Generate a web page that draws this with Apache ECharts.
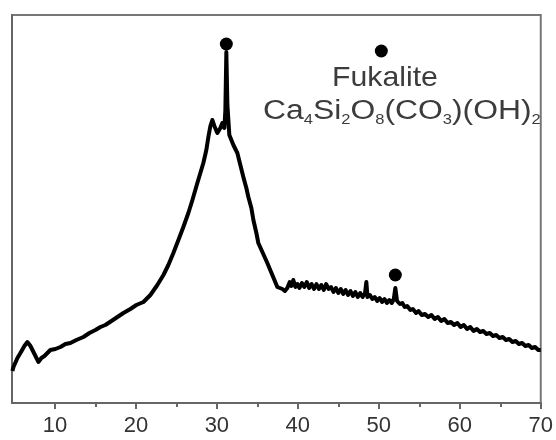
<!DOCTYPE html>
<html>
<head>
<meta charset="utf-8">
<script src="https://cdn.jsdelivr.net/npm/echarts@6/dist/echarts.min.js"></script>
<style>html,body{margin:0;padding:0;background:#fff;}#c{width:556px;height:440px;}</style>
</head>
<body>
<div id="c"></div>
<script>
// 2-theta (degrees)
var twoTheta = [4.75,4.88,5.37,5.74,6.23,6.60,6.98,7.35,7.72,7.96,8.33,8.70,9.07,9.44,10.06,10.68,11.30,11.91,12.65,13.52,14.26,15.00,15.62,16.23,16.98,17.72,18.46,19.32,20.06,20.93,21.79,22.65,23.40,24.01,24.63,25.25,25.86,26.48,26.98,27.59,28.33,28.70,28.95,29.20,29.44,29.69,30.06,30.43,30.68,30.93,31.05,31.17,31.30,31.54,32.04,32.53,32.90,33.27,33.64,33.89,34.26,34.51,34.88,35.12,35.62,36.23,36.85,37.47,
  38.09,38.40,38.70,39.00,39.20,39.44,39.70,39.94,40.20,40.50,40.80,41.10,41.40,41.70,42.00,42.30,42.60,42.90,43.20,43.50,43.80,44.10,44.40,44.70,45.00,45.30,45.60,45.90,46.20,46.50,46.80,47.10,47.40,47.70,48.00,48.30,48.46,48.60,48.90,49.20,49.50,49.80,50.10,50.40,50.70,51.00,51.30,51.60,51.85,52.04,52.25,52.60,52.90,53.20,53.50,53.90,54.20,54.60,54.90,55.30,55.70,56.10,56.50,56.90,57.30,57.70,58.10,58.50,58.90,59.30,59.70,60.10,60.50,60.90,61.30,61.70,62.10,62.50,62.90,63.30,63.70,64.10,64.50,64.90,65.30,65.70,66.10,66.50,66.90,67.30,67.70,68.10,68.50,68.90,69.30,69.70,70.00];
// intensity (a.u.)
var intensity = [32,36,45,50,57,61,57,51,45,41,45,47,50,53,54,56,59,60,63,66,70,73,76,78,82,86,90,94,98,101,108,118,128,138,150,163,176,190,203,220,240,253,266,277,283,277,270,275,280,275,293,351,298,268,258,250,238,226,215,206,195,183,170,160,151,140,128,116,
  114,112,115,121,117,123,116,119,115,120,116,121,115,119,114,119,114,118,113,119,114,116,111,115,110,114,109,113,108,112,107,111,106,110,106,110,121,106,108,104,106,102,105,101,104,100,103,100,104,115,102,99,100,96,97,93,94,90,92,88,89,86,88,84,86,82,84,80,81,78,80,76,78,74,76,72,74,71,72,69,70,67,68,65,66,63,64,61,62,59,60,57,58,55,56,53,53];
// Fukalite reflection markers (and legend dot)
var markX = [31.17, 52.04, 50.31];
var markY = [359, 128, 352];
var xLabelVals = [10,20,30,40,50,60,70];
var xMinorVals = [15,25,35,45,55,65];

var chart = echarts.init(document.getElementById('c'), null, {renderer:'canvas'});
var axisColor = '#666';
var txtColor = '#3c3c3c';
chart.setOption({
  animation: false,
  backgroundColor: '#fff',
  grid: {left: 12, right: 14.5, top: 15, bottom: 37, show: true, borderColor: '#777', borderWidth: 2},
  xAxis: [{
    type: 'value', min: 4.7, max: 70, position: 'bottom',
    axisLine: {show: true, lineStyle: {color: axisColor, width: 2}},
    axisTick: {show: true, customValues: xLabelVals, length: 6, lineStyle: {color: axisColor, width: 2}},
    axisLabel: {customValues: xLabelVals, fontSize: 22, color: '#333', margin: 12, fontFamily: 'Liberation Sans, Arial, sans-serif'},
    splitLine: {show: false}
  }, {
    type: 'value', min: 4.7, max: 70, position: 'bottom',
    axisLine: {show: false},
    axisTick: {show: true, customValues: xMinorVals, length: 4, lineStyle: {color: axisColor, width: 2}},
    axisLabel: {show: false},
    splitLine: {show: false}
  }],
  yAxis: {
    type: 'value', min: 0, max: 388,
    axisLine: {show: true, lineStyle: {color: axisColor, width: 2}},
    axisTick: {show: false}, axisLabel: {show: false}, splitLine: {show: false}
  },
  series: [{
    type: 'line',
    data: twoTheta.map(function(x, i){ return [x, intensity[i]]; }),
    showSymbol: false,
    lineStyle: {color: '#000', width: 4, join: 'round'},
    z: 2
  }, {
    type: 'scatter',
    data: markX.map(function(x, i){ return [x, markY[i]]; }),
    symbolSize: 13,
    itemStyle: {color: '#000', opacity: 1},
    z: 3
  }],
  graphic: [{
    type: 'text', x: 385, y: 78, scaleX: 1.08,
    style: {text: 'Fukalite', font: '28px "Liberation Sans", Arial, sans-serif', fill: txtColor, align: 'center', verticalAlign: 'middle'}
  }, {
    type: 'text', x: 263, y: 112, scaleX: 1.18,
    style: {
      text: '{n|Ca}{s|4}{n|Si}{s|2}{n|O}{s|8}{n|(CO}{s|3}{n|)(OH)}{s|2}',
      align: 'left', verticalAlign: 'middle',
      rich: {
        n: {fontSize: 27, fontFamily: 'Liberation Sans, Arial, sans-serif', fill: txtColor, color: txtColor, lineHeight: 30},
        s: {fontSize: 14, fontFamily: 'Liberation Sans, Arial, sans-serif', fill: txtColor, color: txtColor, lineHeight: 14, padding: [12, 0, 0, 0], verticalAlign: 'bottom'}
      }
    }
  }]
});
</script>
</body>
</html>
